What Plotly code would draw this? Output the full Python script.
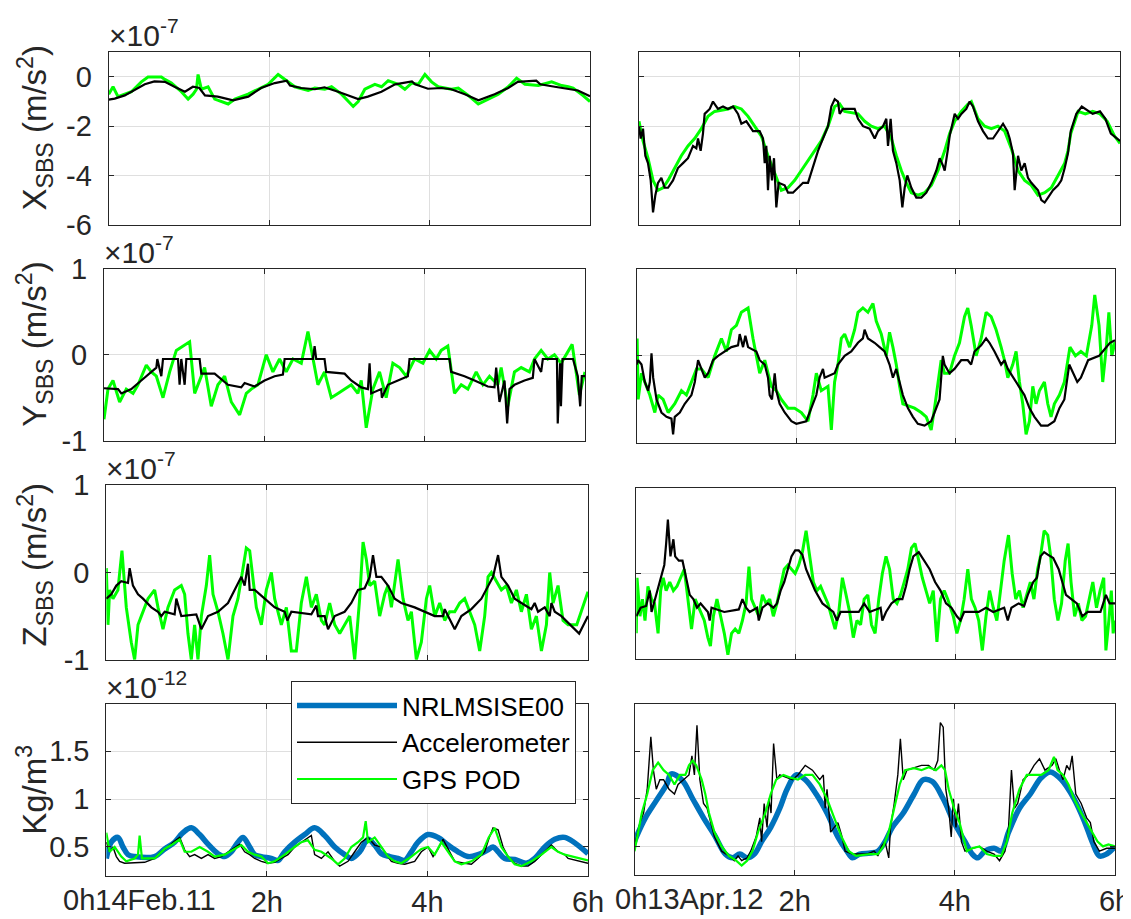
import plotly.graph_objects as go

W, H = 1131, 919

# ---------------- data (time in hours, values in axis units) ----------------
# Row 1: X_SBS (x1e-7 m/s^2)
FEB_X_ACC = [(0, -0.92), (0.075, -0.88), (0.2, -0.75), (0.32, -0.55), (0.45, -0.3), (0.57, -0.18), (0.7, -0.2),
             (0.82, -0.4), (0.95, -0.6), (1.05, -0.4), (1.13, -0.45), (1.2, -0.75), (1.36, -0.8), (1.55, -0.95),
             (1.74, -0.8), (1.9, -0.45), (2.07, -0.25), (2.22, -0.15), (2.26, -0.35), (2.4, -0.45), (2.57, -0.5),
             (2.69, -0.42), (2.86, -0.6), (3.11, -0.9), (3.23, -0.8), (3.4, -0.6), (3.57, -0.3), (3.78, -0.18),
             (3.82, -0.3), (3.98, -0.48), (4.15, -0.45), (4.27, -0.5), (4.44, -0.7), (4.61, -0.95), (4.81, -0.7),
             (4.98, -0.45), (5.1, -0.2), (5.33, -0.15), (5.38, -0.3), (5.56, -0.4), (5.73, -0.5), (5.85, -0.55),
             (6.0, -0.78)]
FEB_X_GPS = [(0, -0.7), (0.054, -0.4), (0.116, -0.8), (0.283, -0.6), (0.407, -0.2), (0.49, 0.0), (0.657, 0.0),
             (0.699, -0.1), (0.782, -0.25), (0.906, -0.6), (0.99, -0.9), (1.052, -0.7), (1.094, -0.5), (1.114, 0.1),
             (1.156, -0.5), (1.239, -0.4), (1.322, -0.9), (1.405, -1.0), (1.489, -1.1), (1.572, -0.9), (1.738, -0.7),
             (1.863, -0.5), (1.988, -0.3), (2.112, 0.1), (2.195, -0.1), (2.32, -0.4), (2.486, -0.55), (2.57, -0.45),
             (2.694, -0.5), (2.778, -0.4), (2.902, -0.7), (2.985, -1.0), (3.048, -1.2), (3.11, -1.0), (3.193, -0.5),
             (3.318, -0.3), (3.401, -0.4), (3.484, -0.15), (3.609, -0.3), (3.692, -0.5), (3.776, -0.25),
             (3.859, -0.3), (3.942, 0.1), (4.025, -0.2), (4.108, -0.4), (4.274, -0.5), (4.358, -0.45),
             (4.482, -0.75), (4.607, -1.1), (4.732, -0.9), (4.857, -0.7), (4.981, -0.4), (5.085, -0.05),
             (5.189, -0.3), (5.356, -0.35), (5.522, -0.2), (5.647, -0.35), (5.73, -0.4), (5.79, -0.45),
             (5.91, -0.75), (6.0, -1.0)]
APR_X_ACC = [(0, -2.0), (0.021, -2.5), (0.05, -2.1), (0.079, -3.2), (0.112, -3.5), (0.146, -4.2), (0.175, -5.5),
             (0.204, -4.8), (0.237, -4.3), (0.279, -4.1), (0.32, -4.5), (0.362, -4.5), (0.424, -4.2), (0.486, -3.7),
             (0.549, -3.5), (0.611, -3.3), (0.674, -2.8), (0.715, -2.9), (0.736, -2.5), (0.769, -3.0), (0.798, -2.3),
             (0.819, -1.5), (0.882, -1.3), (0.923, -1.0), (0.985, -1.3), (1.048, -1.2), (1.11, -1.3), (1.173, -1.2),
             (1.235, -1.5), (1.277, -1.9), (1.339, -1.8), (1.38, -2.0), (1.422, -2.2), (1.505, -2.2), (1.547, -2.5),
             (1.568, -3.5), (1.588, -2.8), (1.609, -4.6), (1.63, -3.2), (1.659, -4.2), (1.684, -3.3), (1.713, -5.3),
             (1.742, -4.3), (1.817, -4.4), (1.859, -4.7), (1.921, -4.7), (1.983, -4.5), (2.046, -4.3), (2.108, -4.3),
             (2.171, -3.6), (2.233, -3.0), (2.295, -2.5), (2.358, -2.0), (2.399, -1.2), (2.441, -0.9), (2.482, -1.0),
             (2.503, -1.5), (2.545, -1.3), (2.69, -1.3), (2.732, -1.7), (2.794, -2.0), (2.877, -2.1), (2.94, -2.5),
             (2.981, -2.2), (3.044, -2.0), (3.085, -1.7), (3.106, -2.8), (3.139, -1.7), (3.168, -3.0), (3.21, -3.5),
             (3.252, -4.2), (3.285, -5.3), (3.314, -4.5), (3.347, -4.0), (3.397, -4.5), (3.459, -4.9), (3.522, -4.9),
             (3.584, -4.7), (3.647, -4.3), (3.709, -3.8), (3.751, -3.3), (3.792, -3.6), (3.813, -3.8), (3.855, -2.9),
             (3.875, -2.4), (3.917, -1.8), (3.938, -1.5), (3.979, -1.7), (4.021, -1.5), (4.083, -1.3), (4.125, -1.0),
             (4.166, -1.2), (4.229, -1.8), (4.291, -2.2), (4.353, -2.5), (4.416, -2.5), (4.478, -2.2), (4.541, -1.9),
             (4.595, -2.2), (4.624, -2.5), (4.665, -3.1), (4.686, -4.6), (4.728, -3.2), (4.769, -3.8), (4.811, -3.5),
             (4.852, -4.1), (4.894, -4.3), (4.977, -4.6), (5.019, -5.0), (5.06, -5.1), (5.102, -4.9), (5.164, -4.6),
             (5.227, -4.4), (5.268, -4.2), (5.31, -3.7), (5.351, -3.1), (5.386, -2.2), (5.455, -1.5), (5.523, -1.2),
             (5.568, -1.3), (5.659, -1.5), (5.75, -1.4), (5.818, -1.7), (5.886, -2.3), (5.955, -2.5), (6.0, -2.6)]
APR_X_GPS = [(0, -1.8), (0.05, -2.6), (0.112, -3.3), (0.175, -4.2), (0.237, -4.6), (0.299, -4.5), (0.362, -4.2),
             (0.445, -3.7), (0.528, -3.2), (0.611, -2.8), (0.694, -2.5), (0.778, -2.1), (0.861, -1.6), (0.944, -1.4),
             (1.11, -1.3), (1.193, -1.2), (1.277, -1.3), (1.36, -1.6), (1.443, -2.0), (1.526, -2.4), (1.609, -3.2),
             (1.692, -3.9), (1.775, -4.6), (1.859, -4.5), (1.942, -4.2), (2.025, -3.8), (2.108, -3.4), (2.191, -3.0),
             (2.274, -2.6), (2.358, -2.0), (2.399, -1.6), (2.441, -1.2), (2.503, -1.1), (2.565, -1.4), (2.732, -1.5),
             (2.815, -1.8), (2.898, -2.0), (2.981, -2.1), (3.064, -2.0), (3.148, -2.5), (3.21, -3.2), (3.272, -3.8),
             (3.335, -4.3), (3.397, -4.7), (3.48, -4.8), (3.563, -4.7), (3.647, -4.4), (3.73, -3.8), (3.813, -3.0),
             (3.875, -2.3), (3.938, -1.8), (4.021, -1.4), (4.104, -1.1), (4.146, -1.0), (4.229, -1.7), (4.312, -2.0),
             (4.395, -2.1), (4.478, -2.0), (4.561, -2.2), (4.644, -2.9), (4.728, -3.8), (4.811, -4.2), (4.894, -4.4),
             (4.977, -4.8), (5.06, -4.7), (5.143, -4.5), (5.227, -4.0), (5.31, -3.5), (5.351, -3.0), (5.386, -2.3),
             (5.477, -1.4), (5.568, -1.5), (5.659, -1.4), (5.75, -1.5), (5.841, -1.8), (5.932, -2.4), (6.0, -2.7)]

# Row 2: Y_SBS (x1e-7 m/s^2)
FEB_Y_ACC = [(0, -0.39), (0.175, -0.4), (0.216, -0.45), (0.341, -0.4), (0.465, -0.3), (0.59, -0.2), (0.653, -0.15),
             (0.665, -0.05), (0.715, -0.25), (0.736, -0.05), (0.923, -0.05), (0.943, -0.35), (0.964, -0.05),
             (1.006, -0.35), (1.027, -0.05), (1.193, -0.05), (1.214, -0.22), (1.38, -0.22), (1.546, -0.35),
             (1.712, -0.38), (1.754, -0.33), (1.879, -0.37), (2.003, -0.3), (2.128, -0.25), (2.232, -0.23),
             (2.253, -0.05), (2.606, -0.05), (2.627, 0.1), (2.647, -0.05), (2.751, -0.05), (2.772, -0.2),
             (3.001, -0.22), (3.084, -0.3), (3.209, -0.38), (3.292, -0.4), (3.313, -0.1), (3.333, -0.45),
             (3.458, -0.4), (3.466, -0.5), (3.541, -0.35), (3.666, -0.3), (3.79, -0.25), (3.811, -0.05),
             (4.31, -0.05), (4.331, -0.2), (4.497, -0.25), (4.622, -0.3), (4.788, -0.37), (4.871, -0.38),
             (4.892, -0.15), (4.933, -0.55), (4.996, -0.3), (5.029, -0.8), (5.058, -0.4), (5.121, -0.35),
             (5.245, -0.3), (5.349, -0.27), (5.37, -0.05), (5.453, -0.2), (5.474, -0.05), (5.65, -0.05),
             (5.66, -0.8), (5.69, -0.1), (5.70, -0.6), (5.72, -0.05), (5.85, -0.05), (5.91, -0.25), (5.94, -0.6),
             (5.96, -0.25), (6.0, -0.25)]
FEB_Y_GPS = [(0, -0.75), (0.05, -0.4), (0.112, -0.3), (0.195, -0.55), (0.278, -0.4), (0.362, -0.45), (0.424, -0.35),
             (0.528, -0.12), (0.59, -0.2), (0.653, -0.25), (0.736, -0.5), (0.819, -0.2), (0.902, 0.05), (0.985, 0.1),
             (1.068, 0.15), (1.131, -0.45), (1.193, -0.3), (1.255, -0.15), (1.338, -0.6), (1.421, -0.35),
             (1.505, -0.25), (1.588, -0.55), (1.692, -0.7), (1.775, -0.45), (1.837, -0.4), (1.92, -0.35),
             (2.024, 0.0), (2.107, -0.2), (2.19, -0.05), (2.273, -0.2), (2.357, -0.05), (2.461, -0.1), (2.544, 0.27),
             (2.606, -0.05), (2.668, -0.35), (2.751, -0.2), (2.835, -0.5), (2.918, -0.45), (3.001, -0.4),
             (3.084, -0.35), (3.167, -0.45), (3.209, -0.3), (3.271, -0.85), (3.354, -0.4), (3.437, -0.2),
             (3.52, -0.5), (3.603, -0.1), (3.687, -0.15), (3.77, -0.25), (3.874, -0.05), (3.978, -0.1),
             (4.061, 0.05), (4.144, -0.05), (4.206, 0.05), (4.289, 0.1), (4.372, -0.45), (4.456, -0.35),
             (4.539, -0.4), (4.643, -0.2), (4.726, -0.35), (4.809, -0.25), (4.913, -0.35), (4.954, -0.15),
             (5.037, -0.6), (5.12, -0.2), (5.204, -0.15), (5.307, -0.2), (5.37, -0.05), (5.453, 0.05),
             (5.536, -0.05), (5.619, 0.0), (5.702, -0.1), (5.84, 0.12), (5.93, -0.47), (6.0, -0.2)]
APR_Y_ACC = [(0, -0.1), (0.021, -0.05), (0.063, -0.1), (0.104, -0.3), (0.146, -0.4), (0.167, -0.3), (0.188, 0.03),
             (0.209, -0.25), (0.251, -0.5), (0.313, -0.65), (0.376, -0.7), (0.438, -0.72), (0.459, -0.9),
             (0.48, -0.7), (0.543, -0.65), (0.605, -0.55), (0.689, -0.45), (0.731, -0.3), (0.772, -0.05),
             (0.814, -0.15), (0.856, -0.25), (0.898, -0.2), (0.96, -0.05), (1.023, 0.0), (1.106, 0.05),
             (1.19, 0.1), (1.273, 0.12), (1.294, 0.25), (1.336, 0.1), (1.365, 0.23), (1.399, 0.1), (1.503, 0.05),
             (1.545, -0.05), (1.608, -0.1), (1.649, -0.25), (1.67, -0.45), (1.699, -0.5), (1.733, -0.2),
             (1.754, -0.4), (1.795, -0.55), (1.858, -0.65), (1.942, -0.75), (2.004, -0.78), (2.129, -0.75),
             (2.192, -0.6), (2.255, -0.45), (2.296, -0.25), (2.338, -0.15), (2.359, -0.25), (2.484, -0.2),
             (2.526, -0.1), (2.61, 0.0), (2.693, 0.05), (2.777, 0.15), (2.839, 0.2), (2.86, 0.3), (2.902, 0.2),
             (2.985, 0.15), (3.048, 0.1), (3.111, 0.05), (3.173, -0.1), (3.215, -0.25), (3.257, -0.15),
             (3.299, -0.3), (3.34, -0.45), (3.403, -0.6), (3.466, -0.7), (3.528, -0.78), (3.612, -0.8),
             (3.695, -0.75), (3.758, -0.6), (3.8, -0.5), (3.841, 0.0), (3.862, -0.1), (3.925, -0.2),
             (3.987, -0.15), (4.071, -0.05), (4.154, -0.05), (4.196, -0.1), (4.238, 0.05), (4.322, 0.12),
             (4.384, 0.2), (4.426, 0.15), (4.489, 0.05), (4.572, -0.1), (4.614, -0.05), (4.656, -0.15),
             (4.76, -0.3), (4.864, -0.45), (4.927, -0.6), (4.99, -0.7), (5.073, -0.8), (5.157, -0.8),
             (5.24, -0.75), (5.303, -0.6), (5.365, -0.5), (5.426, -0.1), (5.527, -0.3), (5.572, -0.25),
             (5.663, -0.05), (5.8, 0.0), (5.846, 0.05), (5.937, 0.15), (6.0, 0.18)]
APR_Y_GPS = [(0, -0.5), (0.008, 0.2), (0.021, -0.5), (0.063, -0.2), (0.104, -0.3), (0.167, -0.45), (0.23, -0.65),
             (0.271, -0.45), (0.334, -0.5), (0.397, -0.65), (0.48, -0.55), (0.564, -0.4), (0.626, -0.45),
             (0.689, -0.3), (0.752, -0.15), (0.814, -0.15), (0.898, -0.25), (0.981, 0.0), (1.065, 0.2),
             (1.127, 0.05), (1.19, 0.3), (1.253, 0.35), (1.315, 0.5), (1.399, 0.55), (1.461, 0.2), (1.545, -0.2),
             (1.608, -0.05), (1.691, -0.35), (1.754, -0.4), (1.816, -0.5), (1.9, -0.6), (1.983, -0.6),
             (2.067, -0.65), (2.15, -0.75), (2.213, -0.45), (2.255, -0.2), (2.317, -0.4), (2.401, -0.35),
             (2.443, -0.85), (2.484, -0.3), (2.526, -0.1), (2.568, 0.2), (2.61, 0.25), (2.672, 0.1), (2.735, 0.3),
             (2.777, 0.5), (2.839, 0.55), (2.902, 0.5), (2.965, 0.6), (3.006, 0.4), (3.069, 0.25), (3.132, 0.0),
             (3.173, 0.27), (3.215, 0.1), (3.257, -0.1), (3.299, -0.35), (3.34, -0.55), (3.486, -0.6),
             (3.57, -0.65), (3.633, -0.7), (3.695, -0.85), (3.737, -0.6), (3.779, -0.35), (3.82, -0.05),
             (3.862, -0.2), (3.925, -0.2), (3.987, 0.0), (4.05, 0.15), (4.113, 0.45), (4.154, 0.55),
             (4.196, 0.35), (4.259, 0.0), (4.322, 0.2), (4.384, 0.5), (4.447, 0.45), (4.509, 0.3), (4.572, 0.1),
             (4.614, -0.05), (4.656, -0.25), (4.718, -0.1), (4.76, 0.05), (4.802, -0.3), (4.843, -0.55),
             (4.885, -0.9), (4.927, -0.75), (4.969, -0.35), (5.01, -0.55), (5.052, -0.4), (5.115, -0.3),
             (5.157, -0.55), (5.198, -0.7), (5.24, -0.55), (5.303, -0.45), (5.365, -0.3), (5.435, 0.1),
             (5.504, 0.0), (5.572, 0.05), (5.641, 0.0), (5.709, 0.35), (5.746, 0.7), (5.8, 0.35), (5.846, -0.3),
             (5.891, 0.1), (5.923, 0.5), (5.96, 0.0), (6.0, 0.16)]

# Row 3: Z_SBS (x1e-7 m/s^2)
FEB_Z_ACC = [(0, -0.3), (0.062, -0.25), (0.125, -0.15), (0.187, -0.1), (0.27, -0.12), (0.291, 0.05), (0.332, -0.15),
             (0.395, -0.25), (0.457, -0.3), (0.561, -0.4), (0.644, -0.45), (0.685, -0.5), (0.727, -0.45),
             (0.851, -0.48), (0.872, -0.3), (0.934, -0.5), (1.121, -0.48), (1.184, -0.65), (1.267, -0.5),
             (1.391, -0.45), (1.516, -0.35), (1.599, -0.2), (1.682, -0.05), (1.723, -0.15), (1.765, 0.1),
             (1.786, -0.2), (1.848, -0.2), (1.973, -0.3), (2.097, -0.4), (2.222, -0.45), (2.255, -0.55),
             (2.305, -0.45), (2.554, -0.48), (2.616, -0.38), (2.637, -0.5), (2.72, -0.5), (2.762, -0.65),
             (2.845, -0.5), (2.969, -0.45), (3.052, -0.35), (3.135, -0.2), (3.218, -0.18), (3.281, -0.05),
             (3.322, 0.2), (3.364, -0.05), (3.426, -0.05), (3.509, -0.15), (3.592, -0.3), (3.675, -0.35),
             (3.841, -0.4), (3.966, -0.45), (4.091, -0.5), (4.194, -0.5), (4.215, -0.42), (4.257, -0.5),
             (4.34, -0.65), (4.423, -0.5), (4.547, -0.42), (4.672, -0.3), (4.755, -0.15), (4.817, -0.05),
             (4.88, 0.2), (4.921, -0.05), (5.004, -0.15), (5.087, -0.3), (5.17, -0.35), (5.295, -0.42),
             (5.336, -0.35), (5.378, -0.45), (5.461, -0.4), (5.523, -0.5), (5.544, -0.35), (5.586, -0.45),
             (5.669, -0.5), (5.89, -0.7), (6.0, -0.5)]
FEB_Z_GPS = [(0, 0.05), (0.021, -0.6), (0.042, -0.2), (0.083, -0.3), (0.145, -0.2), (0.195, 0.25), (0.249, -0.4),
             (0.311, -0.8), (0.353, -1.0), (0.395, -0.6), (0.436, -0.5), (0.519, -0.3), (0.602, -0.2),
             (0.644, -0.4), (0.706, -0.65), (0.768, -0.4), (0.851, -0.2), (0.934, -0.15), (0.976, -0.25),
             (1.017, -0.7), (1.059, -1.0), (1.1, -0.6), (1.142, -1.0), (1.184, -0.5), (1.246, -0.15), (1.287, 0.2),
             (1.329, -0.25), (1.391, -0.45), (1.453, -0.7), (1.516, -1.0), (1.578, -0.5), (1.64, -0.3),
             (1.703, 0.05), (1.744, 0.28), (1.786, 0.25), (1.827, -0.1), (1.869, -0.4), (1.931, -0.6),
             (1.993, -0.2), (2.056, 0.0), (2.097, -0.3), (2.18, -0.6), (2.243, -0.4), (2.305, -0.9), (2.367, -0.9),
             (2.429, -0.35), (2.492, -0.05), (2.554, -0.4), (2.616, -0.25), (2.679, -0.55), (2.72, -0.6),
             (2.782, -0.35), (2.845, -0.6), (2.907, -0.7), (2.969, -0.6), (3.032, -0.5), (3.094, -1.0),
             (3.156, -0.3), (3.198, 0.35), (3.239, 0.15), (3.281, -0.15), (3.343, -0.1), (3.405, -0.5),
             (3.468, -0.25), (3.509, -0.15), (3.551, -0.4), (3.634, 0.15), (3.696, -0.3), (3.758, -0.55),
             (3.8, -0.45), (3.862, -1.0), (3.924, -0.8), (3.987, -0.3), (4.028, -0.15), (4.091, -0.5),
             (4.153, -0.35), (4.215, -0.55), (4.277, -0.45), (4.34, -0.45), (4.402, -0.35), (4.464, -0.3),
             (4.527, -0.45), (4.589, -0.6), (4.651, -0.9), (4.713, -0.5), (4.755, -0.05), (4.797, 0.0),
             (4.859, -0.1), (4.921, -0.2), (4.983, -0.15), (5.046, -0.35), (5.108, -0.2), (5.17, -0.45),
             (5.233, -0.25), (5.295, -0.65), (5.357, -0.5), (5.42, -0.9), (5.482, -0.6), (5.523, 0.0),
             (5.565, -0.35), (5.627, -0.15), (5.689, -0.55), (5.752, -0.6), (5.86, -0.6), (6.0, -0.22)]
APR_Z_ACC = [(0, -0.5), (0.055, -0.4), (0.123, -0.38), (0.169, -0.2), (0.191, -0.45), (0.26, -0.2), (0.305, -0.05),
             (0.351, 0.1), (0.374, 0.35), (0.396, 0.63), (0.428, 0.2), (0.465, 0.4), (0.487, 0.2), (0.533, 0.15),
             (0.579, 0.15), (0.624, -0.05), (0.67, -0.25), (0.715, -0.3), (0.761, -0.4), (0.806, -0.35),
             (0.852, -0.4), (0.897, -0.45), (0.92, -0.55), (0.943, -0.4), (1.103, -0.45), (1.285, -0.42),
             (1.33, -0.3), (1.376, -0.4), (1.421, -0.45), (1.513, -0.4), (1.535, -0.55), (1.581, -0.4),
             (1.649, -0.35), (1.718, -0.4), (1.763, -0.35), (1.809, -0.2), (1.854, -0.1), (1.9, 0.05),
             (1.945, 0.2), (1.991, 0.27), (2.036, 0.27), (2.082, 0.22), (2.128, 0.05), (2.173, -0.05),
             (2.241, -0.2), (2.333, -0.35), (2.401, -0.4), (2.469, -0.45), (2.515, -0.55), (2.56, -0.45),
             (2.788, -0.45), (2.856, -0.35), (2.925, -0.45), (3.062, -0.4), (3.084, -0.55), (3.13, -0.45),
             (3.198, -0.35), (3.267, -0.3), (3.335, -0.3), (3.38, -0.15), (3.426, 0.05), (3.472, 0.2),
             (3.54, 0.25), (3.608, 0.15), (3.677, 0.05), (3.745, -0.1), (3.813, -0.2), (3.882, -0.35),
             (3.95, -0.4), (4.018, -0.5), (4.064, -0.55), (4.109, -0.45), (4.292, -0.45), (4.383, -0.4),
             (4.474, -0.45), (4.611, -0.4), (4.656, -0.55), (4.702, -0.4), (4.793, -0.35), (4.861, -0.38),
             (4.907, -0.25), (4.975, -0.1), (5.021, -0.05), (5.066, 0.2), (5.112, 0.25), (5.157, 0.22),
             (5.226, 0.18), (5.294, 0.05), (5.339, -0.1), (5.385, -0.25), (5.453, -0.3), (5.522, -0.35),
             (5.59, -0.5), (5.658, -0.45), (5.818, -0.45), (5.886, -0.25), (5.932, -0.35), (6.0, -0.35)]
APR_Z_GPS = [(0, -0.7), (0.009, -0.05), (0.046, -0.5), (0.077, -0.3), (0.109, -0.55), (0.146, -0.15), (0.191, -0.3),
             (0.228, -0.35), (0.273, -0.7), (0.305, -0.2), (0.337, -0.05), (0.374, -0.2), (0.419, -0.1),
             (0.465, -0.2), (0.51, -0.15), (0.556, -0.05), (0.601, 0.05), (0.647, -0.3), (0.692, -0.65),
             (0.738, -0.3), (0.784, -0.4), (0.852, -0.55), (0.897, -0.75), (0.929, -0.85), (0.966, -0.5),
             (1.011, -0.3), (1.057, -0.5), (1.103, -0.7), (1.148, -0.95), (1.194, -0.7), (1.239, -0.65),
             (1.285, -0.7), (1.33, -0.55), (1.376, -0.35), (1.412, 0.08), (1.444, -0.3), (1.49, -0.4),
             (1.535, -0.5), (1.581, -0.25), (1.626, -0.35), (1.672, -0.3), (1.718, -0.5), (1.763, -0.35),
             (1.809, -0.15), (1.854, 0.05), (1.9, 0.1), (1.945, 0.05), (1.991, 0.0), (2.036, 0.1), (2.082, 0.25),
             (2.128, 0.5), (2.173, 0.2), (2.219, -0.1), (2.264, -0.2), (2.31, -0.15), (2.355, -0.25),
             (2.401, -0.35), (2.446, -0.5), (2.492, -0.65), (2.538, -0.45), (2.583, -0.05), (2.629, -0.25),
             (2.674, -0.45), (2.72, -0.75), (2.765, -0.55), (2.811, -0.6), (2.856, -0.3), (2.902, -0.25),
             (2.948, -0.6), (2.993, -0.7), (3.039, -0.3), (3.084, 0.0), (3.13, 0.2), (3.175, 0.05), (3.221, -0.3),
             (3.267, -0.35), (3.312, -0.25), (3.358, -0.1), (3.403, 0.05), (3.449, 0.3), (3.494, 0.35),
             (3.54, 0.15), (3.585, -0.05), (3.631, -0.2), (3.677, -0.35), (3.722, -0.2), (3.768, -0.8),
             (3.813, -0.3), (3.859, -0.2), (3.904, -0.3), (3.973, -0.5), (4.018, -0.7), (4.064, -0.55),
             (4.109, -0.3), (4.155, 0.05), (4.2, -0.3), (4.246, -0.4), (4.292, -0.55), (4.337, -0.9),
             (4.383, -0.5), (4.428, -0.2), (4.474, -0.4), (4.519, -0.55), (4.565, -0.2), (4.611, 0.15),
             (4.665, 0.45), (4.711, 0.0), (4.756, -0.3), (4.802, -0.2), (4.847, -0.4), (4.893, -0.25),
             (4.939, -0.1), (4.984, -0.3), (5.03, 0.05), (5.066, 0.2), (5.112, 0.5), (5.157, 0.45), (5.194, 0.2),
             (5.239, -0.3), (5.285, -0.55), (5.33, -0.35), (5.376, 0.15), (5.412, 0.35), (5.449, -0.1),
             (5.494, -0.5), (5.54, -0.35), (5.585, -0.55), (5.631, -0.5), (5.677, -0.3), (5.722, -0.1),
             (5.768, -0.4), (5.813, -0.2), (5.859, -0.05), (5.886, -0.9), (5.923, -0.55), (5.954, -0.2),
             (5.977, -0.7), (6.0, -0.55)]

# Row 4: density (x1e-12 kg/m^3)
FEB_RHO_MSIS = [(0, 0.38), (0.062, 0.55), (0.145, 0.6), (0.208, 0.5), (0.27, 0.42), (0.353, 0.4), (0.602, 0.4),
                (0.727, 0.48), (0.851, 0.55), (0.955, 0.65), (1.059, 0.7), (1.163, 0.63), (1.267, 0.53),
                (1.391, 0.43), (1.474, 0.4), (1.557, 0.45), (1.64, 0.55), (1.703, 0.6), (1.786, 0.5), (1.848, 0.42),
                (1.931, 0.4), (2.056, 0.38), (2.139, 0.36), (2.222, 0.45), (2.346, 0.55), (2.471, 0.63),
                (2.595, 0.7), (2.72, 0.62), (2.845, 0.5), (2.969, 0.42), (3.052, 0.38), (3.156, 0.45), (3.26, 0.58),
                (3.343, 0.52), (3.426, 0.43), (3.53, 0.4), (3.634, 0.38), (3.717, 0.36), (3.8, 0.45), (3.883, 0.55),
                (4.007, 0.63), (4.132, 0.6), (4.257, 0.52), (4.381, 0.45), (4.506, 0.4), (4.63, 0.42),
                (4.755, 0.47), (4.817, 0.5), (4.88, 0.45), (4.963, 0.38), (5.087, 0.37), (5.233, 0.33),
                (5.336, 0.38), (5.461, 0.5), (5.586, 0.58), (5.71, 0.6), (6.0, 0.43)]
FEB_RHO_ACC = [(0, 0.55), (0.042, 0.45), (0.083, 0.5), (0.125, 0.4), (0.166, 0.35), (0.228, 0.33), (0.478, 0.34),
               (0.602, 0.38), (0.685, 0.45), (0.768, 0.5), (0.831, 0.55), (0.914, 0.6), (0.976, 0.47), (1.038, 0.4),
               (1.1, 0.42), (1.184, 0.38), (1.267, 0.42), (1.35, 0.38), (1.433, 0.4), (1.516, 0.45), (1.599, 0.5),
               (1.661, 0.53), (1.723, 0.45), (1.786, 0.42), (1.848, 0.38), (1.931, 0.35), (2.014, 0.33),
               (2.097, 0.34), (2.18, 0.38), (2.263, 0.42), (2.346, 0.5), (2.429, 0.55), (2.492, 0.58),
               (2.554, 0.62), (2.595, 0.42), (2.679, 0.38), (2.762, 0.45), (2.845, 0.35), (2.907, 0.3),
               (3.011, 0.35), (3.094, 0.45), (3.177, 0.55), (3.26, 0.6), (3.343, 0.52), (3.426, 0.5), (3.488, 0.42),
               (3.551, 0.35), (3.634, 0.33), (3.717, 0.32), (3.841, 0.35), (3.924, 0.45), (4.007, 0.5), (4.07, 0.4),
               (4.132, 0.48), (4.194, 0.58), (4.257, 0.48), (4.34, 0.35), (4.464, 0.33), (4.547, 0.32),
               (4.63, 0.38), (4.713, 0.45), (4.763, 0.58), (4.817, 0.7), (4.88, 0.68), (4.942, 0.5), (5.004, 0.4),
               (5.087, 0.33), (5.17, 0.3), (5.253, 0.3), (5.336, 0.35), (5.461, 0.45), (5.544, 0.52),
               (5.627, 0.45), (5.71, 0.42), (5.752, 0.38), (6.0, 0.33)]
FEB_RHO_GPS = [(0, 0.65), (0.042, 0.45), (0.104, 0.5), (0.187, 0.4), (0.249, 0.35), (0.353, 0.38), (0.395, 0.42),
               (0.415, 0.62), (0.444, 0.38), (0.602, 0.38), (0.727, 0.48), (0.81, 0.52), (0.914, 0.58),
               (0.976, 0.45), (1.059, 0.45), (1.163, 0.5), (1.267, 0.45), (1.35, 0.4), (1.474, 0.42), (1.599, 0.48),
               (1.682, 0.52), (1.765, 0.45), (1.848, 0.42), (1.931, 0.4), (2.014, 0.33), (2.097, 0.35),
               (2.222, 0.42), (2.346, 0.5), (2.429, 0.55), (2.512, 0.57), (2.595, 0.47), (2.679, 0.45),
               (2.803, 0.38), (2.886, 0.32), (2.969, 0.38), (3.052, 0.5), (3.135, 0.55), (3.198, 0.6),
               (3.231, 0.77), (3.26, 0.55), (3.343, 0.6), (3.426, 0.5), (3.509, 0.4), (3.592, 0.35), (3.675, 0.33),
               (3.8, 0.4), (3.924, 0.48), (4.007, 0.5), (4.091, 0.42), (4.174, 0.55), (4.257, 0.45), (4.34, 0.35),
               (4.423, 0.32), (4.547, 0.35), (4.672, 0.42), (4.763, 0.6), (4.838, 0.7), (4.921, 0.5), (5.004, 0.4),
               (5.087, 0.32), (5.17, 0.3), (5.295, 0.35), (5.42, 0.42), (5.544, 0.5), (5.627, 0.45), (5.71, 0.42),
               (6.0, 0.36)]
APR_RHO_MSIS = [(0, 0.55), (0.023, 0.6), (0.136, 0.8), (0.272, 0.98), (0.408, 1.16), (0.454, 1.26), (0.59, 1.2),
                (0.726, 1.0), (0.862, 0.8), (0.998, 0.62), (1.134, 0.42), (1.224, 0.38), (1.315, 0.42),
                (1.406, 0.38), (1.497, 0.42), (1.587, 0.55), (1.701, 0.7), (1.814, 0.9), (1.905, 1.1),
                (2.018, 1.25), (2.132, 1.2), (2.268, 1.05), (2.404, 0.85), (2.54, 0.6), (2.653, 0.45),
                (2.721, 0.38), (2.812, 0.42), (2.948, 0.43), (3.039, 0.45), (3.129, 0.55), (3.22, 0.7),
                (3.356, 0.85), (3.492, 1.05), (3.605, 1.2), (3.719, 1.18), (3.855, 1.0), (3.991, 0.75),
                (4.127, 0.55), (4.218, 0.42), (4.286, 0.38), (4.376, 0.45), (4.49, 0.48), (4.58, 0.45),
                (4.671, 0.65), (4.807, 0.9), (4.943, 1.05), (5.079, 1.22), (5.193, 1.28), (5.329, 1.2),
                (5.488, 1.0), (5.624, 0.75), (5.714, 0.55), (5.805, 0.4), (5.896, 0.42), (6.0, 0.5)]
APR_RHO_ACC = [(0, 0.5), (0.023, 0.58), (0.068, 0.75), (0.113, 0.85), (0.159, 1.1), (0.204, 1.65), (0.236, 1.3),
               (0.272, 1.1), (0.317, 1.2), (0.363, 1.2), (0.431, 1.1), (0.499, 1.05), (0.544, 1.15), (0.612, 1.2),
               (0.68, 1.25), (0.717, 1.45), (0.748, 1.25), (0.78, 1.77), (0.816, 1.2), (0.862, 0.95), (0.907, 0.9),
               (0.952, 0.75), (0.998, 0.6), (1.088, 0.45), (1.179, 0.4), (1.247, 0.35), (1.293, 0.4),
               (1.338, 0.35), (1.406, 0.38), (1.451, 0.45), (1.519, 0.6), (1.565, 0.8), (1.587, 0.55),
               (1.619, 0.95), (1.655, 0.7), (1.678, 1.0), (1.705, 0.85), (1.737, 1.58), (1.778, 1.2),
               (1.814, 1.25), (1.973, 1.2), (2.041, 1.25), (2.132, 1.35), (2.222, 1.3), (2.313, 1.2),
               (2.358, 1.25), (2.381, 0.9), (2.404, 1.1), (2.449, 0.65), (2.494, 0.7), (2.54, 0.75), (2.585, 0.62),
               (2.63, 0.45), (2.721, 0.42), (2.902, 0.42), (2.993, 0.45), (3.039, 0.4), (3.084, 0.5),
               (3.129, 0.55), (3.175, 0.38), (3.197, 0.7), (3.243, 0.95), (3.288, 1.25), (3.32, 1.63),
               (3.356, 1.2), (3.401, 1.3), (3.583, 1.35), (3.673, 1.35), (3.741, 1.3), (3.787, 1.4),
               (3.819, 1.8), (3.855, 1.75), (3.887, 1.1), (3.923, 0.9), (3.955, 0.6), (3.982, 1.0), (4.014, 0.7),
               (4.045, 0.95), (4.082, 0.55), (4.127, 0.45), (4.218, 0.48), (4.308, 0.5), (4.399, 0.45),
               (4.49, 0.42), (4.558, 0.35), (4.626, 0.45), (4.671, 0.7), (4.707, 1.3), (4.744, 0.9),
               (4.785, 0.95), (4.853, 1.2), (4.921, 1.25), (4.989, 1.35), (5.057, 1.42), (5.125, 1.3),
               (5.215, 1.35), (5.261, 1.42), (5.306, 1.3), (5.351, 1.2), (5.397, 1.35), (5.433, 1.3),
               (5.465, 1.45), (5.51, 1.05), (5.578, 0.95), (5.646, 0.8), (5.692, 0.75), (5.737, 0.55),
               (5.805, 0.45), (5.896, 0.48), (6.0, 0.48)]
APR_RHO_GPS = [(0, 0.45), (0.045, 0.65), (0.091, 0.85), (0.159, 1.05), (0.227, 1.3), (0.295, 1.38), (0.363, 1.3),
               (0.431, 1.25), (0.499, 1.15), (0.567, 1.25), (0.635, 1.25), (0.68, 1.35), (0.726, 1.4),
               (0.771, 1.35), (0.839, 1.2), (0.884, 1.05), (0.93, 0.85), (0.998, 0.65), (1.088, 0.5), (1.179, 0.4),
               (1.27, 0.35), (1.338, 0.3), (1.406, 0.35), (1.474, 0.45), (1.542, 0.65), (1.633, 0.85),
               (1.701, 1.05), (1.769, 1.2), (1.859, 1.25), (1.95, 1.22), (2.041, 1.2), (2.132, 1.25),
               (2.222, 1.25), (2.313, 1.15), (2.404, 1.0), (2.494, 0.8), (2.585, 0.6), (2.676, 0.45),
               (2.766, 0.4), (2.948, 0.42), (3.039, 0.42), (3.107, 0.5), (3.175, 0.65), (3.243, 0.9),
               (3.311, 1.15), (3.379, 1.3), (3.492, 1.32), (3.583, 1.3), (3.673, 1.33), (3.764, 1.3),
               (3.832, 1.35), (3.878, 1.3), (3.923, 1.1), (3.991, 0.9), (4.059, 0.75), (4.104, 0.6), (4.15, 0.45),
               (4.218, 0.48), (4.308, 0.5), (4.399, 0.42), (4.49, 0.4), (4.58, 0.4), (4.649, 0.55), (4.717, 0.85),
               (4.807, 1.1), (4.898, 1.25), (5.079, 1.25), (5.17, 1.3), (5.238, 1.44), (5.283, 1.3),
               (5.351, 1.25), (5.42, 1.15), (5.488, 1.0), (5.578, 0.85), (5.646, 0.75), (5.714, 0.65),
               (5.782, 0.55), (5.85, 0.5), (5.918, 0.52), (6.0, 0.5)]

X_TICKS = [0, 2, 4, 6]
X_TICKTEXT = ["", "2h", "4h", "6h"]
DATE_LABELS = ["0h14Feb.11", "0h13Apr.12"]
Y_LABELS = ["X<sub>SBS</sub> (m/s<sup>2</sup>)", "Y<sub>SBS</sub> (m/s<sup>2</sup>)",
            "Z<sub>SBS</sub> (m/s<sup>2</sup>)", "Kg/m<sup>3</sup>"]
EXPONENTS = ["\u00d710<sup>-7</sup>", "\u00d710<sup>-7</sup>", "\u00d710<sup>-7</sup>", "\u00d710<sup>-12</sup>"]
Y_TICKS = [[-6, -4, -2, 0], [-1, 0, 1], [-1, 0, 1], [0.5, 1, 1.5]]
Y_TICKTEXT = [["-6", "-4", "-2", "0"], ["-1", "0", "1"], ["-1", "0", "1"], ["0.5", "1", "1.5"]]
Y_RANGES = [[-6, 1], [-1, 1], [-1, 1], [0.2, 1.994]]

# ---------------- styling / layout ----------------
FONT = "Liberation Sans, Arial, Helvetica, sans-serif"
INK = "#262626"
GREEN = "#00ff00"
BLACK = "#000000"
BLUE = "#0072bd"
GRID = "#dfdfdf"

# pixel boxes of the 8 panels (left, right, top, bottom)
PANELS = {
    1: (100.7, 582.0, 44.3, 216.7), 2: (631.0, 1112.0, 44.3, 216.7),
    3: (96.0, 577.0, 260.7, 432.7), 4: (628.5, 1107.0, 260.7, 435.0),
    5: (98.3, 580.0, 477.3, 651.7), 6: (628.3, 1107.0, 480.0, 651.0),
    7: (98.3, 580.0, 696.0, 867.7), 8: (626.5, 1107.0, 696.0, 867.0),
}
YLABEL_X = [27, 27, 27, 24]
YLABEL_SHIFT = [10, 10, 8, 0]
LEGEND_BOX = (283, 673)  # top-left corner, pixels

fig = go.Figure()


def ax(i):
    return ("x" if i == 1 else f"x{i}"), ("y" if i == 1 else f"y{i}")


def add(series, i, color, width, name=None, legend=False, shape="linear"):
    xa, ya = ax(i)
    fig.add_trace(go.Scatter(
        x=[p[0] for p in series], y=[p[1] for p in series], mode="lines",
        line=dict(color=color, width=width, shape=shape),
        xaxis=xa, yaxis=ya, name=name, showlegend=legend, hoverinfo="skip"))


# rows 1-3: GPS under accelerometer
add(FEB_X_GPS, 1, GREEN, 3.0); add(FEB_X_ACC, 1, BLACK, 2.2)
add(APR_X_GPS, 2, GREEN, 3.0); add(APR_X_ACC, 2, BLACK, 2.2)
add(FEB_Y_GPS, 3, GREEN, 3.0); add(FEB_Y_ACC, 3, BLACK, 2.2)
add(APR_Y_GPS, 4, GREEN, 3.0); add(APR_Y_ACC, 4, BLACK, 2.2)
add(FEB_Z_GPS, 5, GREEN, 3.0); add(FEB_Z_ACC, 5, BLACK, 2.2)
add(APR_Z_GPS, 6, GREEN, 3.0); add(APR_Z_ACC, 6, BLACK, 2.2)
# row 4: density
add(FEB_RHO_MSIS, 7, BLUE, 5.5, "NRLMSISE00", True, "spline")
add(FEB_RHO_ACC, 7, BLACK, 1.4, "Accelerometer", True)
add(FEB_RHO_GPS, 7, GREEN, 2.2, "GPS POD", True)
add(APR_RHO_MSIS, 8, BLUE, 5.5, shape="spline")
add(APR_RHO_ACC, 8, BLACK, 1.4)
add(APR_RHO_GPS, 8, GREEN, 2.2)

layout = dict(width=W, height=H, margin=dict(l=0, r=0, t=0, b=0, autoexpand=False),
              paper_bgcolor="white", plot_bgcolor="white",
              font=dict(family=FONT, size=28, color=INK))
annotations = []
for i, (x0, x1, y0, y1) in PANELS.items():
    row = (i - 1) // 2
    left = (i % 2 == 1)
    xa, ya = ax(i)
    axis_common = dict(showline=True, linecolor=INK, linewidth=1, mirror="ticks",
                       ticks="inside", ticklen=5, tickwidth=1, tickcolor=INK,
                       showgrid=True, gridcolor=GRID, gridwidth=1, zeroline=False,
                       automargin=False, tickfont=dict(family=FONT, size=29, color=INK))
    layout["xaxis" if i == 1 else f"xaxis{i}"] = dict(
        axis_common, domain=[x0 / W, x1 / W], anchor=ya, range=[0, 6],
        tickmode="array", tickvals=X_TICKS, ticktext=X_TICKTEXT,
        showticklabels=(row == 3), ticklabelstandoff=0)
    layout["yaxis" if i == 1 else f"yaxis{i}"] = dict(
        axis_common, domain=[1 - y1 / H, 1 - y0 / H], anchor=xa, range=Y_RANGES[row],
        tickmode="array", tickvals=Y_TICKS[row], ticktext=Y_TICKTEXT[row],
        showticklabels=left, ticklabelstandoff=10)
    if left:
        annotations.append(dict(text=Y_LABELS[row], xref="paper", yref="paper",
                                x=YLABEL_X[row] / W, y=1 - (y0 + y1) / 2 / H, xanchor="center", yanchor="middle",
                                yshift=YLABEL_SHIFT[row], textangle=-90, showarrow=False,
                                font=dict(family=FONT, size=33, color=INK)))
        annotations.append(dict(text=EXPONENTS[row], xref=f"{xa} domain", yref=f"{ya} domain",
                                x=0, y=1, xanchor="left", yanchor="bottom", xshift=-2, yshift=-2,
                                showarrow=False, font=dict(family=FONT, size=30, color=INK)))
    if row == 3:
        annotations.append(dict(text=DATE_LABELS[0 if left else 1], xref=f"{xa} domain", yref=f"{ya} domain",
                                x=0, y=0, xanchor="left", yanchor="top",
                                xshift=(-45 if left else -22), yshift=-6,
                                showarrow=False, font=dict(family=FONT, size=29, color=INK)))

layout["annotations"] = annotations
layout["legend"] = dict(x=LEGEND_BOX[0] / W, y=1 - LEGEND_BOX[1] / H, xanchor="left", yanchor="top",
                        bgcolor="white", bordercolor=INK, borderwidth=1,
                        font=dict(family=FONT, size=26, color="black"),
                        itemwidth=100, traceorder="normal", tracegroupgap=0)
layout["showlegend"] = True
fig.update_layout(**layout)
fig.write_html("out.html")
